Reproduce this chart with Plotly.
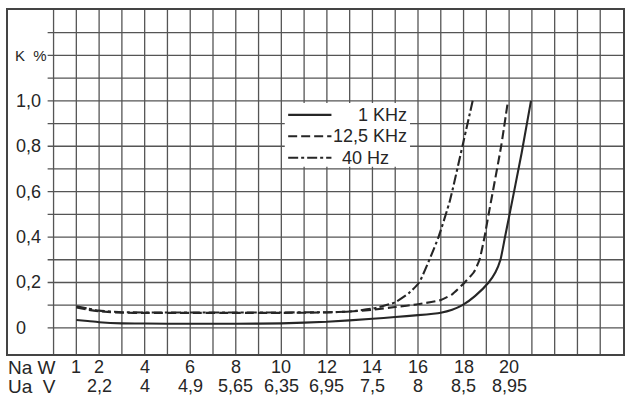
import plotly.graph_objects as go

# ---- data ----
na_w_ticks = [1, 2, 4, 6, 8, 10, 12, 14, 16, 18, 20]
na_w_labels = ["1", "2", "4", "6", "8", "10", "12", "14", "16", "18", "20"]
ua_pos = [2, 4, 6, 8, 10, 12, 14, 16, 18, 20]
ua_labels = ["2,2", "4", "4,9", "5,65", "6,35", "6,95", "7,5", "8", "8,5", "8,95"]
k_ticks = [0, 0.2, 0.4, 0.6, 0.8, 1.0]
k_labels = ["0", "0,2", "0,4", "0,6", "0,8", "1,0"]

w_1k = [1, 1.5, 2, 3, 4, 6, 8, 10, 12, 14, 15, 16, 17, 17.5, 17.95, 18.5, 19.1, 19.4,
        19.62, 19.82, 20.0, 20.55, 20.96]
k_1k = [0.035, 0.03, 0.025, 0.02, 0.019, 0.018, 0.018, 0.02, 0.027, 0.04, 0.048, 0.056,
        0.067, 0.08, 0.1, 0.14, 0.2, 0.245, 0.3, 0.4, 0.49, 0.77, 1.0]

w_12k = [1, 1.5, 2, 3, 4, 6, 8, 10, 12, 13, 14, 15, 16, 17, 17.5, 18.05, 18.45, 18.7,
         18.92, 19.1, 19.65, 19.95]
k_12k = [0.09, 0.08, 0.073, 0.067, 0.066, 0.066, 0.066, 0.066, 0.068, 0.072, 0.08, 0.092,
         0.104, 0.123, 0.148, 0.2, 0.245, 0.3, 0.4, 0.5, 0.8, 1.0]

w_40 = [1, 1.5, 2, 3, 4, 6, 8, 10, 12, 13, 14, 14.5, 15, 15.6, 16.05, 16.5, 16.9, 17.4,
        17.95, 18.4]
k_40 = [0.095, 0.085, 0.076, 0.069, 0.068, 0.068, 0.068, 0.068, 0.069, 0.072, 0.085,
        0.097, 0.113, 0.153, 0.2, 0.3, 0.4, 0.56, 0.8, 1.0]

series_names = ["1 KHz", "12,5 KHz", "40 Hz"]

FONT = "Liberation Sans, Arial, sans-serif"
INK = "#262626"
GRID = "#555555"

X0, X1 = -2, 25
Y0, Y1 = -0.115, 1.4

fig = go.Figure()

dashes = ["solid", "9px,4px", "10px,3px,3px,3px"]
for w, k, name, d in zip([w_1k, w_12k, w_40], [k_1k, k_12k, k_40], series_names, dashes):
    fig.add_trace(go.Scatter(x=w, y=k, mode="lines", name=name,
                             line=dict(color=INK, width=2.1, dash=d, shape="spline",
                                       smoothing=0.5),
                             showlegend=False, hoverinfo="skip"))

shapes = []
# grid: vertical
for gx in range(0, 25):
    shapes.append(dict(type="line", xref="x", yref="y", x0=gx, x1=gx, y0=Y0, y1=Y1,
                       line=dict(color=GRID, width=1.3), layer="below"))
# grid: horizontal
for i in range(0, 14):
    gy = i / 10
    shapes.append(dict(type="line", xref="x", yref="y", x0=-0.26, x1=X1, y0=gy, y1=gy,
                       line=dict(color=GRID, width=1.3), layer="below"))
# legend white box
shapes.append(dict(type="rect", xref="x", yref="y", x0=10.15, x1=15.65, y0=0.71, y1=0.99,
                   fillcolor="white", line=dict(width=0), layer="below"))
# legend sample lines
leg_y = [0.938, 0.844, 0.749]
for yy, d in zip(leg_y, dashes):
    shapes.append(dict(type="line", xref="x", yref="y", x0=10.3, x1=12.2, y0=yy, y1=yy,
                       line=dict(color=INK, width=2.1, dash=d), layer="above"))

annotations = []
leg_xr = [15.6, 15.6, 14.8]
for name, yy, xr in zip(series_names, leg_y, leg_xr):
    annotations.append(dict(text=name, x=xr, y=yy, xref="x", yref="y", xanchor="right",
                            yanchor="middle", showarrow=False,
                            font=dict(family=FONT, size=18, color=INK)))
# y labels
for v, t in zip(k_ticks, k_labels):
    annotations.append(dict(text=t, x=-1.72, y=v, xref="x", yref="y", xanchor="left",
                            yanchor="middle", showarrow=False,
                            font=dict(family=FONT, size=18, color=INK)))
annotations.append(dict(text="K  %", x=-1.8, y=1.2, xref="x", yref="y", xanchor="left",
                        yanchor="middle", showarrow=False,
                        font=dict(family=FONT, size=15, color=INK)))
# x labels, row 1 (Na W)
for v, t in zip(na_w_ticks, na_w_labels):
    annotations.append(dict(text=t, x=v, y=0, xref="x", yref="paper", xanchor="center",
                            yanchor="middle", yshift=-13, showarrow=False,
                            font=dict(family=FONT, size=18, color=INK)))
# x labels, row 2 (Ua V)
for v, t in zip(ua_pos, ua_labels):
    annotations.append(dict(text=t, x=v, y=0, xref="x", yref="paper", xanchor="center",
                            yanchor="middle", yshift=-32, showarrow=False,
                            font=dict(family=FONT, size=18, color=INK)))
annotations.append(dict(text="Na W", x=0, y=0, xref="paper", yref="paper", xanchor="left",
                        yanchor="middle", yshift=-13, xshift=-2, showarrow=False,
                        font=dict(family=FONT, size=19, color=INK)))
annotations.append(dict(text="Ua  V", x=0, y=0, xref="paper", yref="paper", xanchor="left",
                        yanchor="middle", yshift=-32, xshift=-2, showarrow=False,
                        font=dict(family=FONT, size=19, color=INK)))

fig.update_layout(
    width=631, height=398,
    margin=dict(l=8, r=6, t=10, b=44),
    paper_bgcolor="white", plot_bgcolor="white",
    shapes=shapes, annotations=annotations,
    xaxis=dict(range=[X0, X1], showgrid=False, zeroline=False, showticklabels=False,
               ticks="", showline=True, mirror=True, linecolor="#444", linewidth=1.5),
    yaxis=dict(range=[Y0, Y1], showgrid=False, zeroline=False, showticklabels=False,
               ticks="", showline=True, mirror=True, linecolor="#444", linewidth=1.5),
    showlegend=False,
)

fig.write_html("out.html")
